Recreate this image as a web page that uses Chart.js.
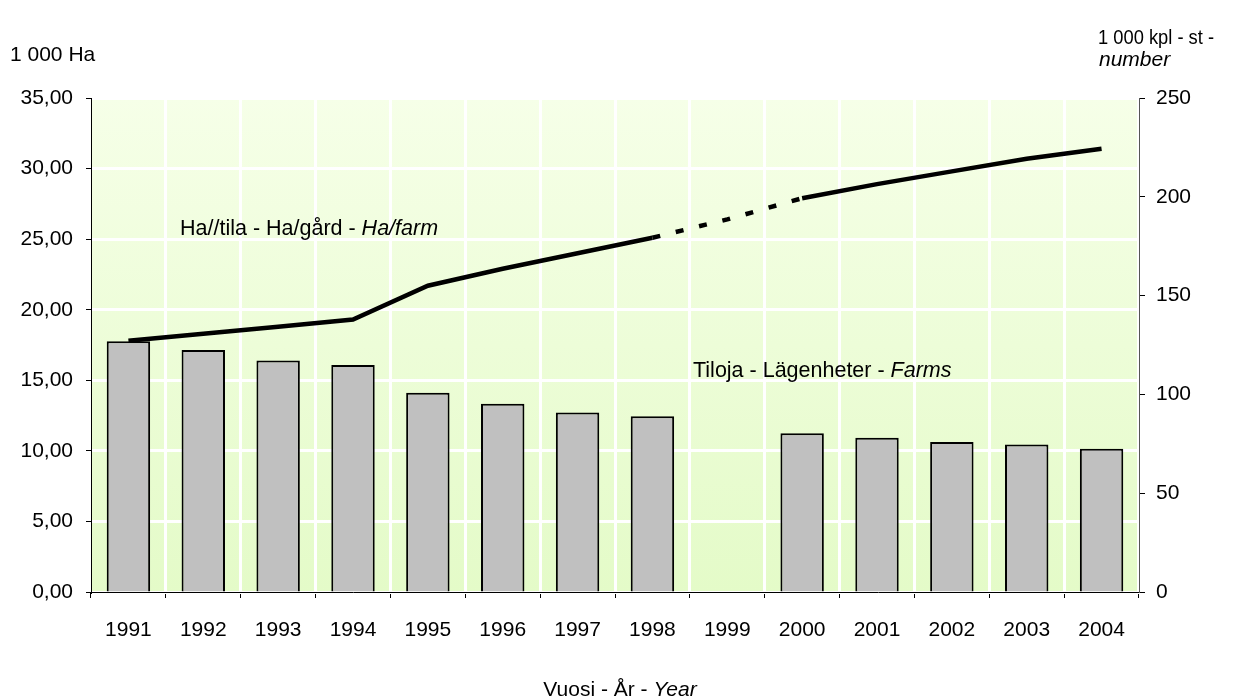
<!DOCTYPE html>
<html>
<head>
<meta charset="utf-8">
<script src="https://cdn.jsdelivr.net/npm/chart.js@4.4.0/dist/chart.umd.min.js"></script>
<style>
  body { margin: 0; background: #fff; }
  #wrap { width: 1240px; height: 697px; }
</style>
</head>
<body>
<div id="wrap"><canvas id="grafico" width="1240" height="697"></canvas></div>
<script>
// Datos
const years = ['1991', '1992', '1993', '1994', '1995', '1996', '1997', '1998', '1999', '2000', '2001', '2002', '2003', '2004'];
const farms = [126.9, 122.5, 117.1, 114.9, 100.8, 95.3, 90.9, 88.9, null, 80.3, 78.1, 75.9, 74.7, 72.5]; // 1 000 kpl
const haPerFarm = [17.8, 18.3, 18.8, 19.3, 21.7, 22.9, 24.0, 25.1, 26.4, 27.9, 28.9, 29.8, 30.7, 31.4];
const leftTicks = [0, 5, 10, 15, 20, 25, 30, 35];
const rightTicks = [0, 50, 100, 150, 200, 250];

const FONT = 'Liberation Sans, Arial, sans-serif';
const SIZE = 21;

// Fondo degradado verde del área del gráfico
const fondo = {
  id: 'fondo',
  beforeDraw(chart) {
    const { ctx, chartArea: a } = chart;
    const g = ctx.createLinearGradient(0, a.top, 0, a.bottom);
    g.addColorStop(0, '#f6ffe8');
    g.addColorStop(1, '#e4fbc8');
    ctx.save();
    ctx.fillStyle = g;
    ctx.fillRect(a.left, a.top, a.right - a.left, a.bottom - a.top);
    ctx.restore();
  }
};

// Textos: títulos de ejes y etiquetas de series
const textos = {
  id: 'textos',
  afterDraw(chart) {
    const ctx = chart.ctx;
    ctx.save();
    ctx.fillStyle = '#000';
    ctx.textBaseline = 'middle';
    ctx.textAlign = 'left';
    ctx.font = SIZE + 'px ' + FONT;
    ctx.fillText('1 000 Ha', 10, 55);
    ctx.fillText('1 000 kpl - st -', 1098, 38, 116);
    ctx.font = 'italic ' + SIZE + 'px ' + FONT;
    ctx.fillText('number', 1099, 60);

    const mixed = (parts, x, y, size) => {
      parts.forEach(([t, it]) => {
        ctx.font = (it ? 'italic ' : '') + size + 'px ' + FONT;
        ctx.fillText(t, x, y);
        x += ctx.measureText(t).width;
      });
    };
    mixed([['Ha//tila - Ha/gård - ', false], ['Ha/farm', true]], 180, 229, 21.5);
    mixed([['Tiloja - Lägenheter - ', false], ['Farms', true]], 693, 371, 21.5);

    ctx.font = SIZE + 'px ' + FONT;
    const w1 = ctx.measureText('Vuosi - År - ').width;
    ctx.font = 'italic ' + SIZE + 'px ' + FONT;
    const w2 = ctx.measureText('Year').width;
    mixed([['Vuosi - År - ', false], ['Year', true]], 620 - (w1 + w2) / 2, 690, SIZE);
    ctx.restore();
  }
};

new Chart(document.getElementById('grafico'), {
  data: {
    labels: years,
    datasets: [
      {
        type: 'line',
        label: 'Ha/farm',
        data: haPerFarm,
        yAxisID: 'y',
        borderColor: '#000',
        borderWidth: 4.5,
        pointRadius: 0,
        tension: 0,
        order: 0,
        segment: {
          // tramo 1998-2000 a trazos
          borderDash: c => (c.p0DataIndex >= 7 && c.p1DataIndex <= 9) ? [8, 16] : undefined
        }
      },
      {
        type: 'bar',
        label: 'Farms',
        data: farms,
        yAxisID: 'y1',
        backgroundColor: '#c0c0c0',
        borderColor: '#000',
        borderWidth: 2,
        barPercentage: 0.58,
        categoryPercentage: 1,
        order: 1
      }
    ]
  },
  options: {
    responsive: false,
    animation: false,
    layout: { padding: { left: 0, right: 0, top: 98, bottom: 0 } },
    plugins: { legend: { display: false }, tooltip: { enabled: false } },
    scales: {
      x: {
        offset: true,
        grid: { offset: true, color: '#fff', lineWidth: 3, tickColor: '#000', tickWidth: 1, tickLength: 6 },
        border: { color: '#000', width: 1 },
        ticks: { color: '#000', font: { family: FONT, size: SIZE }, padding: 20, maxRotation: 0 },
        afterFit: s => { s.height = 105; }
      },
      y: {
        position: 'left',
        min: 0,
        max: 35,
        afterBuildTicks: s => { s.ticks = leftTicks.map(v => ({ value: v })); },
        grid: { color: '#fff', lineWidth: 3, tickColor: '#000', tickWidth: 1, tickLength: 5 },
        border: { color: '#000', width: 1 },
        ticks: {
          color: '#000',
          font: { family: FONT, size: SIZE },
          padding: 13,
          callback: v => v.toFixed(2).replace('.', ',')
        },
        afterFit: s => { s.width = 91; }
      },
      y1: {
        position: 'right',
        min: 0,
        max: 250,
        afterBuildTicks: s => { s.ticks = rightTicks.map(v => ({ value: v })); },
        grid: { drawOnChartArea: false, tickColor: '#000', tickWidth: 1, tickLength: 6 },
        border: { color: '#555', width: 1 },
        ticks: { color: '#000', font: { family: FONT, size: SIZE }, padding: 11 },
        afterFit: s => { s.width = 101; }
      }
    }
  },
  plugins: [fondo, textos]
});
</script>
</body>
</html>
